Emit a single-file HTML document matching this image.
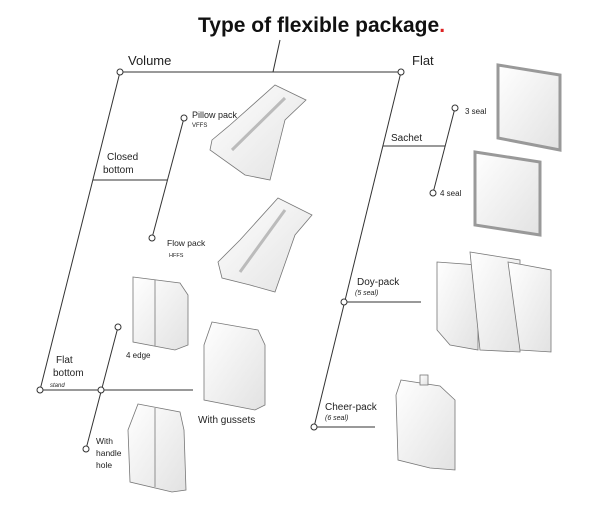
<!DOCTYPE html>
<html><head><style>
body{margin:0;background:#fff;}
svg{display:block;font-family:"Liberation Sans",sans-serif;}
</style></head><body>
<svg width="612" height="523" viewBox="0 0 612 523" xmlns="http://www.w3.org/2000/svg">
<defs>
<linearGradient id="g" x1="0" x2="1" y1="0" y2="1"><stop offset="0" stop-color="#fff"/><stop offset="1" stop-color="#e2e2e2"/></linearGradient>
</defs>
<text x="198" y="32" font-size="21" font-weight="bold" fill="#111">Type of flexible package<tspan fill="#d22">.</tspan></text>
<g stroke="#333" stroke-width="1" fill="none">
<line x1="280" y1="40" x2="273" y2="72"/>
<line x1="120" y1="72" x2="401" y2="72"/>
<line x1="120" y1="72" x2="40" y2="390"/>
<line x1="93" y1="180" x2="167" y2="180"/>
<line x1="184" y1="118" x2="152" y2="238"/>
<line x1="40" y1="390" x2="193" y2="390"/>
<line x1="118" y1="327" x2="86" y2="449"/>
<line x1="401" y1="72" x2="314" y2="427"/>
<line x1="383" y1="146" x2="445" y2="146"/>
<line x1="455" y1="108" x2="433" y2="193"/>
<line x1="344" y1="302" x2="421" y2="302"/>
<line x1="314" y1="427" x2="375" y2="427"/>
</g>
<g stroke="#333" stroke-width="1" fill="#fff">
<circle cx="120" cy="72" r="3"/><circle cx="401" cy="72" r="3"/>
<circle cx="184" cy="118" r="3"/><circle cx="152" cy="238" r="3"/>
<circle cx="40" cy="390" r="3"/><circle cx="101" cy="390" r="3"/>
<circle cx="118" cy="327" r="3"/><circle cx="86" cy="449" r="3"/>
<circle cx="455" cy="108" r="3"/><circle cx="433" cy="193" r="3"/>
<circle cx="344" cy="302" r="3"/><circle cx="314" cy="427" r="3"/>
</g>
<g fill="#222">
<text x="128" y="65" font-size="13">Volume</text>
<text x="412" y="65" font-size="13">Flat</text>
<text x="192" y="118" font-size="9">Pillow pack</text>
<text x="192" y="127" font-size="6">VFFS</text>
<text x="107" y="160" font-size="10">Closed</text>
<text x="103" y="173" font-size="10">bottom</text>
<text x="167" y="246" font-size="8.5">Flow pack</text>
<text x="169" y="257" font-size="5.5">HFFS</text>
<text x="126" y="358" font-size="8">4 edge</text>
<text x="56" y="363" font-size="10">Flat</text>
<text x="53" y="376" font-size="10">bottom</text>
<text x="50" y="387" font-size="6" font-style="italic">stand</text>
<text x="198" y="423" font-size="10">With gussets</text>
<text x="96" y="444" font-size="8.5">With</text>
<text x="96" y="456" font-size="8.5">handle</text>
<text x="96" y="468" font-size="8.5">hole</text>
<text x="465" y="114" font-size="8">3 seal</text>
<text x="391" y="141" font-size="10">Sachet</text>
<text x="440" y="196" font-size="8">4 seal</text>
<text x="357" y="285" font-size="10">Doy-pack</text>
<text x="355" y="295" font-size="7" font-style="italic">(5 seal)</text>
<text x="325" y="410" font-size="10">Cheer-pack</text>
<text x="325" y="420" font-size="7" font-style="italic">(6 seal)</text>
</g>
<g stroke="#777" stroke-width="0.8" fill="url(#g)">
<!-- pillow -->
<path d="M212 140 L230 125 L275 85 L306 100 L285 120 L270 180 L245 175 L210 150 Z"/>
<path d="M232 150 L285 98" stroke="#bbb" fill="none" stroke-width="3"/>
<!-- flow -->
<path d="M218 262 L240 240 L278 198 L312 215 L295 235 L275 292 L250 285 L222 278 Z"/>
<path d="M240 272 L285 210" stroke="#bbb" fill="none" stroke-width="3"/>
<!-- 4 edge -->
<path d="M133 277 L180 283 L188 295 L188 345 L175 350 L133 342 Z"/>
<line x1="155" y1="280" x2="155" y2="346"/>
<!-- gussets -->
<path d="M212 322 L258 330 L265 345 L265 405 L255 410 L204 400 L204 345 Z"/>
<!-- handle -->
<path d="M138 404 L180 412 L184 430 L186 490 L172 492 L130 482 L128 430 Z"/>
<line x1="155" y1="408" x2="155" y2="487"/>
<!-- 3 seal -->
<path d="M498 65 L560 75 L560 150 L498 138 Z" stroke="#999" stroke-width="3"/>
<!-- 4 seal -->
<path d="M475 152 L540 162 L540 235 L475 225 Z" stroke="#999" stroke-width="3"/>
<!-- doy -->
<path d="M437 262 L478 265 L478 350 L450 345 L437 330 Z"/>
<path d="M470 252 L520 260 L520 352 L480 350 Z"/>
<path d="M508 262 L551 270 L551 352 L520 350 Z"/>
<!-- cheer -->
<path d="M401 380 L440 386 L455 400 L455 470 L430 468 L398 460 L396 395 Z"/>
<rect x="420" y="375" width="8" height="10"/>
</g>
</svg>
</body></html>
